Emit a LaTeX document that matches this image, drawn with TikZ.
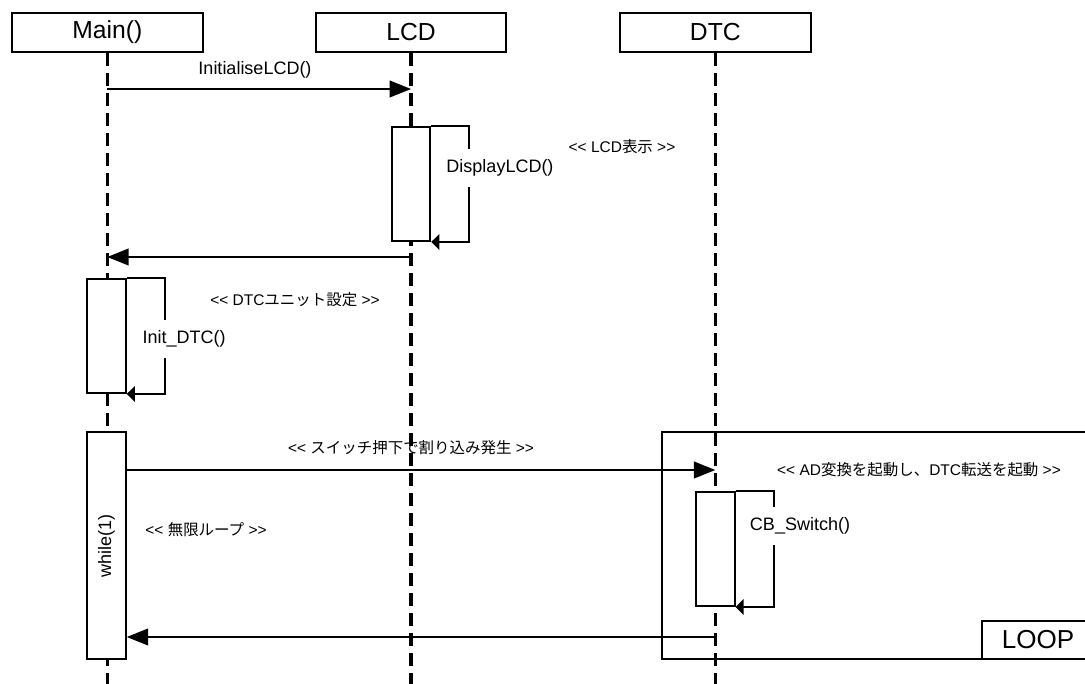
\documentclass[tikz,border=0pt]{standalone}
\usepackage{fontspec}
\setmainfont{Liberation Sans}
\newfontfamily\jp{Noto Sans CJK JP}
\usetikzlibrary{arrows.meta,positioning}

\newcommand\NoteL{<\kern0pt<}
\newcommand\NoteR{>\kern0pt>}

\tikzset{
  head/.style={draw, line width=1.4pt, minimum width=143pt, minimum height=29pt,
    inner sep=0pt, font=\fontsize{18.5}{20}\selectfont},
  lifeline/.style={line width=2.3pt, dash pattern=on 9.75pt off 5.25pt},
  actbar/.style={draw, fill=white, line width=1.4pt, minimum width=29pt,
    minimum height=85.5pt, inner sep=0pt},
  msg/.style={line width=1.4pt, -{Triangle[length=16pt,width=12.5pt]}},
  selfmsg/.style={line width=1.4pt, -{Triangle[length=6pt,width=11.5pt]}},
  call/.style={fill=white, inner xsep=1pt, minimum height=29pt,
    font=\fontsize{13.5}{15}\selectfont},
  msglabel/.style={inner sep=0pt, font=\fontsize{13.5}{15}\selectfont},
  note/.style={inner sep=0pt, font=\fontsize{11.6}{13}\selectfont},
  frame/.style={draw, line width=1.4pt},
}

\begin{document}
\begin{tikzpicture}[x=0.75pt, y=-0.75pt]
  \useasboundingbox (0,0) rectangle (1085,684);

  % LOOP frame
  \draw[frame] (662,432) rectangle (1094,659);
  \node[head, minimum width=84pt, minimum height=28.5pt, font=\fontsize{19.5}{21}\selectfont,
    fill=white] (loop) at (1038,640) {LOOP};

  % Objects
  \node[head] (main) at (107.3,32.5) {Main()};
  \node[head] (lcd) at (411,32.5) {LCD};
  \node[head] (dtc) at (715.3,32.5) {DTC};

  % Lifelines
  \coordinate (mainEnd) at (107.3,684);
  \coordinate (lcdEnd) at (411,684);
  \coordinate (dtcEnd) at (715.3,684);
  \draw[lifeline] (main.south) -- (mainEnd);
  \draw[lifeline] (lcd.south) -- (lcdEnd);
  \draw[lifeline] (dtc.south) -- (dtcEnd);

  % Activations
  \node[actbar] (lcdbar) at (411,184) {};
  \node[actbar] (initbar) at (106.5,336) {};
  \node[actbar, minimum height=170.25pt] (whilebar) at (106.5,545.5)
    {\rotatebox{90}{\fontsize{13.5}{15}\selectfont while(1)}};
  \node[actbar] (cbbar) at (715.3,549) {};

  % Self calls
  \draw[selfmsg] (lcdbar.north east) -- ++(38,0) |- (lcdbar.south east);
  \node[call] (dispLCD) at (500,168) {DisplayLCD()};
  \draw[selfmsg] (initbar.north east) -- ++(38,0) |- (initbar.south east);
  \node[call] (initDTC) at (184,339) {Init\_DTC()};
  \draw[selfmsg] (cbbar.north east) -- ++(38,0) |- (cbbar.south east);
  \node[call] (cbSwitch) at (800,526) {CB\_Switch()};

  % Messages
  \coordinate (initA) at (107.3,89);
  \coordinate (initB) at (411,89);
  \draw[msg] (initA) -- (initB);
  \node[msglabel] (initLCD) at (255,70) {InitialiseLCD()};

  \coordinate (retA) at (411,257);
  \coordinate (retB) at (107.3,257);
  \draw[msg] (retA) -- (retB);

  \coordinate (irqA) at (whilebar.east |- 0,470);
  \coordinate (irqB) at (715.3,470);
  \draw[msg] (irqA) -- (irqB);

  \coordinate (loopA) at (715.3,637);
  \coordinate (loopB) at (whilebar.east |- 0,637);
  \draw[msg] (loopA) -- (loopB);

  % Notes
  \node[note] (noteLCD) at (622,147) {\NoteL{} LCD{\jp 表示} \NoteR};
  \node[note] (noteDTC) at (295,300) {\NoteL{} DTC{\jp ユニット設定} \NoteR};
  \node[note] (noteIrq) at (411,448) {\NoteL{} {\jp スイッチ押下で割り込み発生} \NoteR};
  \node[note] (noteLoop) at (206,530) {\NoteL{} {\jp 無限ループ} \NoteR};
  \node[note] (noteAD) at (919,470) {\NoteL{} AD{\jp 変換を起動し、}DTC{\jp 転送を起動} \NoteR};
\end{tikzpicture}
\end{document}
